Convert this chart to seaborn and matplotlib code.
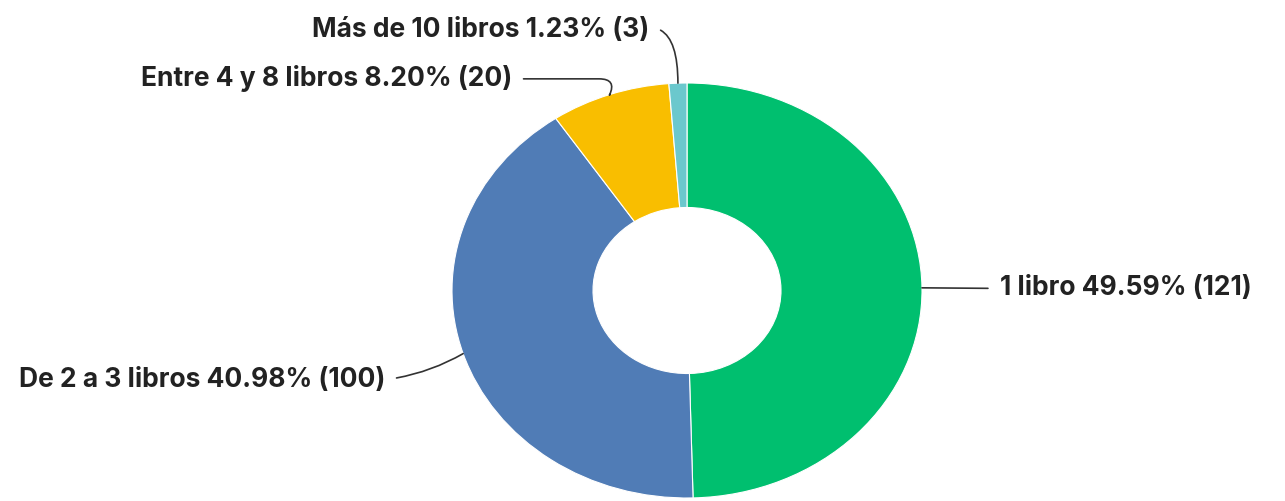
import matplotlib
matplotlib.use("Agg")
import matplotlib.pyplot as plt
import seaborn as sns
import numpy as np

categorias = ["1 libro", "De 2 a 3 libros", "Entre 4 y 8 libros", "Más de 10 libros"]
porcentajes = [49.59, 40.98, 8.20, 1.23]
conteos = [121, 100, 20, 3]
colores = ["#00BF6F", "#507CB6", "#F9BE00", "#6BC8CD"]

sns.set_theme(style="white")
plt.rcParams["font.family"] = ["Inter", "DejaVu Sans"]

fig = plt.figure(figsize=(12.85, 5.01), dpi=100)
# ejes estirados: la dona se ve como elipse
ax = fig.add_axes([452 / 1285, 3 / 501, 470 / 1285, 415 / 501])

wedges, _ = ax.pie(porcentajes, colors=colores, startangle=90, counterclock=False,
                   radius=1, wedgeprops=dict(width=0.6, edgecolor="white", linewidth=0.8))
ax.set_aspect("auto")
ax.set_xlim(-1, 1)
ax.set_ylim(-1, 1)
ax.axis("off")

# etiqueta: (x, y, alineación, punto de salida de la guía, estilo de conexión)
pos_texto = [(1.33, 0.01, "left", (0, 0.5), "arc3,rad=0"),
             (-1.285, -0.43, "right", (1, 0.5), "arc3,rad=0.1"),
             (-0.745, 1.02, "right", (1, 0.5), "angle,angleA=0,angleB=65,rad=18"),
             (-0.16, 1.255, "right", (1, 0.6), "angle3,angleA=0,angleB=90")]

for w, cat, p, n, (tx, ty, ha, rp, cs) in zip(wedges, categorias, porcentajes, conteos, pos_texto):
    ang = np.deg2rad((w.theta1 + w.theta2) / 2)
    x, y = np.cos(ang), np.sin(ang)
    ax.annotate(f"{cat} {p:.2f}% ({n})", xy=(x, y), xytext=(tx, ty),
                ha=ha, va="center", fontsize=19, fontweight="bold", color="#222222",
                annotation_clip=False,
                arrowprops=dict(arrowstyle="-", color="#333333", lw=1.2,
                                shrinkA=6, shrinkB=0, relpos=rp,
                                connectionstyle=cs))

fig.savefig("out.png", dpi=100)
